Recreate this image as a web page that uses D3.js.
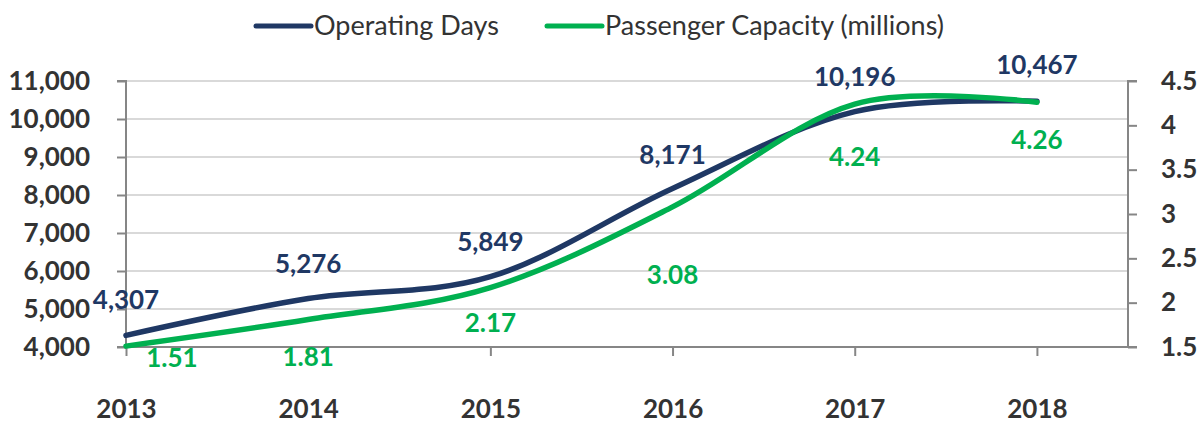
<!DOCTYPE html>
<html>
<head>
<meta charset="utf-8">
<script src="https://cdn.jsdelivr.net/npm/d3@7"></script>
<style>
  body { margin: 0; background: #fff; }
  text { font-family: Lato, "Open Sans", sans-serif; }
</style>
</head>
<body>
<script>
var years = [2013, 2014, 2015, 2016, 2017, 2018];
var operatingDays = [4307, 5276, 5849, 8171, 10196, 10467];
var passengerCapacity = [1.51, 1.81, 2.17, 3.08, 4.24, 4.26];
var leftTicks = [4000, 5000, 6000, 7000, 8000, 9000, 10000, 11000];
var rightTicks = [1.5, 2, 2.5, 3, 3.5, 4, 4.5];

// label nudges (pixels), Excel placed some of them by hand
var daysLabelDy = [-35, -35, -35, -34, -35, -36];
var daysLabelDx = [0, 0, 0, 0, 0, 0];
var capLabelDy = [12, 37, 35, 68, 53, 38];
var capLabelDx = [46, 0, 0, 0, 0, 0];

var navy = "#1f3864", green = "#00b050", grey = "#868686";

var svg = d3.select("body")
   .append("svg")
   .attr("width", 1198)
   .attr("height", 423);

var x = d3.scaleLinear().domain([2013, 2018.5]).range([126, 1128]);
var yL = d3.scaleLinear().domain([4000, 11000]).range([347, 81]);
var yR = d3.scaleLinear().domain([1.5, 4.5]).range([347, 81]);

// gridlines
svg.append("g")
  .selectAll("line")
  .data(leftTicks.slice(1))
  .enter().append("line")
  .attr("x1", x.range()[0]).attr("x2", x.range()[1])
  .attr("y1", d => yL(d)).attr("y2", d => yL(d))
  .style("stroke", "#d9d9d9").style("stroke-width", 2);

// left axis
var left = svg.append("g")
  .attr("transform", "translate(126,0)")
  .call(d3.axisLeft(yL).tickValues(leftTicks).tickSize(9).tickPadding(27)
    .tickFormat(d3.format(",")));

// right axis
var right = svg.append("g")
  .attr("transform", "translate(1128,0)")
  .call(d3.axisRight(yR).tickValues(rightTicks).tickSize(9).tickPadding(24)
    .tickFormat(d => d));

// bottom axis
var bottom = svg.append("g")
  .attr("transform", "translate(0,347)")
  .call(d3.axisBottom(x).tickValues(years.concat([2018.5])).tickSize(9).tickPadding(44)
    .tickFormat(d => d === 2018.5 ? "" : d));
bottom.selectAll(".tick").filter(d => d === 2018.5).select("line").attr("y2", 0);

[left, right, bottom].forEach(function(g){
  g.select(".domain").style("stroke", grey).style("stroke-width", 2);
  g.selectAll(".tick line").style("stroke", grey).style("stroke-width", 2);
  g.selectAll(".tick text")
    .style("font-size", "26px").style("font-weight", "bold").style("fill", "#333");
});
left.select(".domain").attr("d", "M-9,81H0V347H-9");
right.select(".domain").attr("d", "M9,81H0V347H9");
bottom.select(".domain").attr("d", "M126,0H1128");

// lines
var lineDays = d3.line()
  .x((d, i) => x(years[i]))
  .y(d => yL(d))
  .curve(d3.curveCatmullRom.alpha(0));
var lineCap = d3.line()
  .x((d, i) => x(years[i]))
  .y(d => yR(d))
  .curve(d3.curveCatmullRom.alpha(0));

svg.append("path")
  .attr("d", lineDays(operatingDays))
  .style("fill", "none").style("stroke", navy)
  .style("stroke-width", 5.5).style("stroke-linecap", "round");

svg.append("path")
  .attr("d", lineCap(passengerCapacity))
  .style("fill", "none").style("stroke", green)
  .style("stroke-width", 5.5).style("stroke-linecap", "round");

// data labels
svg.append("g").selectAll("text")
  .data(operatingDays)
  .enter().append("text")
  .attr("x", (d, i) => x(years[i]) + daysLabelDx[i])
  .attr("y", (d, i) => yL(d) + daysLabelDy[i])
  .attr("text-anchor", "middle").attr("dy", "0.35em")
  .style("font-size", "26px").style("font-weight", "bold").style("fill", navy)
  .text(d => d3.format(",")(d));

svg.append("g").selectAll("text")
  .data(passengerCapacity)
  .enter().append("text")
  .attr("x", (d, i) => x(years[i]) + capLabelDx[i])
  .attr("y", (d, i) => yR(d) + capLabelDy[i])
  .attr("text-anchor", "middle").attr("dy", "0.35em")
  .style("font-size", "26px").style("font-weight", "bold").style("fill", green)
  .text(d => d.toFixed(2));

// legend
var legend = [["Operating Days", navy, 256], ["Passenger Capacity (millions)", green, 547]];
var lg = svg.append("g").selectAll("g")
  .data(legend)
  .enter().append("g")
  .attr("transform", d => "translate(" + d[2] + ",26)");
lg.append("line")
  .attr("x1", 0).attr("x2", 55)
  .style("stroke", d => d[1]).style("stroke-width", 5).style("stroke-linecap", "round");
lg.append("text")
  .attr("x", 58).attr("dy", "0.35em")
  .style("font-size", "27px").style("fill", "#333")
  .text(d => d[0]);
</script>
</body>
</html>
